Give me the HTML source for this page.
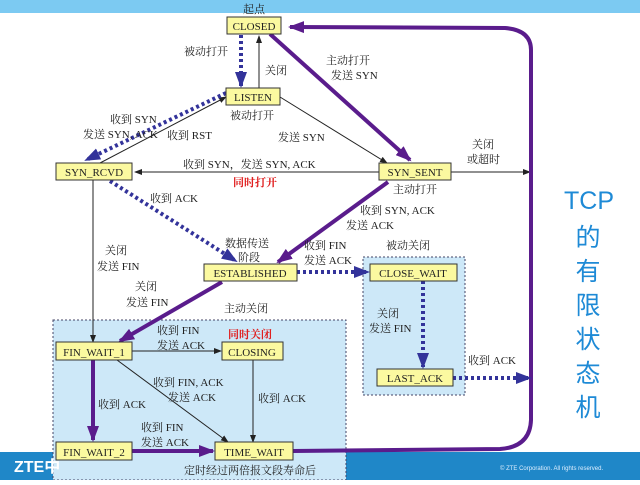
<!DOCTYPE html>
<html><head><meta charset="utf-8"><style>
body{margin:0;width:640px;height:480px;overflow:hidden;background:#fff}
svg text{font-family:"Liberation Serif","Noto Serif CJK SC",serif;font-size:11px;fill:#222}
svg text.big{font-family:"Liberation Sans","Noto Sans CJK SC",sans-serif;font-size:25px;fill:#1e8ad6}
</style></head><body>
<svg width="640" height="480" viewBox="0 0 640 480" xmlns="http://www.w3.org/2000/svg">
<defs>
<marker id="a" markerWidth="8" markerHeight="6" refX="7" refY="3" orient="auto" markerUnits="userSpaceOnUse"><path d="M0,0L8,3L0,6z" fill="#222"/></marker>
<marker id="p" markerWidth="16" markerHeight="12" refX="14" refY="6" orient="auto" markerUnits="userSpaceOnUse"><path d="M0,0L16,6L0,12z" fill="#5a1c8c"/></marker>
<marker id="b" markerWidth="16" markerHeight="12" refX="14" refY="6" orient="auto" markerUnits="userSpaceOnUse"><path d="M0,0L16,6L0,12z" fill="#33339a"/></marker>
</defs>
<rect x="0" y="0" width="640" height="13" fill="#7ccaf2"/>
<rect x="0" y="452" width="640" height="28" fill="#1f87c8"/>
<rect x="53" y="320" width="293" height="160" fill="#cde8f8" stroke="#446" stroke-dasharray="2,2"/>
<rect x="363" y="257" width="102" height="138" fill="#cde8f8" stroke="#446" stroke-dasharray="2,2"/>
<text x="14" y="472" style="font-family:'Liberation Sans','Noto Sans CJK SC',sans-serif;font-weight:bold;font-size:16px;fill:#fff">ZTE中</text>
<text x="500" y="470" style="font-family:'Liberation Sans',sans-serif;font-size:6px;fill:#dfefff">© ZTE Corporation. All rights reserved.</text>
<g stroke="#222" stroke-width="1" fill="none">
<line x1="259" y1="88" x2="259" y2="36" marker-end="url(#a)"/>
<line x1="100" y1="163" x2="226" y2="97" marker-end="url(#a)"/>
<line x1="280" y1="97" x2="387" y2="163" marker-end="url(#a)"/>
<line x1="379" y1="172" x2="135" y2="172" marker-end="url(#a)"/>
<line x1="451" y1="172" x2="530" y2="172" marker-end="url(#a)"/>
<line x1="93" y1="180" x2="93" y2="342" marker-end="url(#a)"/>
<line x1="132" y1="351" x2="221" y2="351" marker-end="url(#a)"/>
<line x1="117" y1="360" x2="228" y2="442" marker-end="url(#a)"/>
<line x1="253" y1="360" x2="253" y2="442" marker-end="url(#a)"/>
</g>
<g stroke="#5a1c8c" stroke-width="4" fill="none">
<line x1="270" y1="34" x2="410" y2="160" marker-end="url(#p)"/>
<line x1="388" y1="182" x2="278" y2="262" marker-end="url(#p)"/>
<line x1="222" y1="282" x2="120" y2="341" marker-end="url(#p)"/>
<line x1="93" y1="360" x2="93" y2="440" marker-end="url(#p)"/>
<line x1="132" y1="451" x2="213" y2="451" marker-end="url(#p)"/>
<path d="M293,451 L500,449 Q530,447 531,420 L531,50 Q531,30 505,28 L290,27" marker-end="url(#p)"/>
</g>
<g stroke="#33339a" stroke-width="4" fill="none" stroke-dasharray="3,3">
<line x1="241" y1="35" x2="241" y2="86" marker-end="url(#b)"/>
<line x1="226" y1="93" x2="86" y2="160" marker-end="url(#b)"/>
<line x1="110" y1="181" x2="236" y2="261" marker-end="url(#b)"/>
<line x1="297" y1="272" x2="368" y2="272" marker-end="url(#b)"/>
<line x1="423" y1="281" x2="423" y2="367" marker-end="url(#b)"/>
<line x1="453" y1="378" x2="530" y2="378" marker-end="url(#b)"/>
</g>
<g fill="#fbf9a0" stroke="#333" stroke-width="1">
<rect x="227" y="17" width="54" height="17"/>
<rect x="226" y="88" width="54" height="17"/>
<rect x="56" y="163" width="76" height="17"/>
<rect x="379" y="163" width="72" height="17"/>
<rect x="204" y="264" width="93" height="17"/>
<rect x="370" y="264" width="87" height="17"/>
<rect x="377" y="369" width="76" height="17"/>
<rect x="56" y="342" width="76" height="18"/>
<rect x="222" y="342" width="61" height="18"/>
<rect x="56" y="442" width="76" height="18"/>
<rect x="215" y="442" width="78" height="18"/>
</g>
<g text-anchor="middle">
<text x="254" y="30">CLOSED</text><text x="253" y="101">LISTEN</text>
<text x="94" y="176">SYN_RCVD</text><text x="415" y="176">SYN_SENT</text>
<text x="250" y="277">ESTABLISHED</text><text x="413" y="277">CLOSE_WAIT</text>
<text x="415" y="382">LAST_ACK</text><text x="94" y="356">FIN_WAIT_1</text>
<text x="252" y="356">CLOSING</text><text x="94" y="456">FIN_WAIT_2</text>
<text x="254" y="456">TIME_WAIT</text>
</g>
<text x="243" y="13">起点</text>
<text x="184" y="55">被动打开</text>
<text x="265" y="74">关闭</text>
<text x="326" y="64">主动打开</text><text x="331" y="79">发送 SYN</text>
<text x="110" y="123">收到 SYN</text><text x="83" y="138">发送 SYN, ACK</text>
<text x="230" y="119">被动打开</text>
<text x="167" y="139">收到 RST</text>
<text x="278" y="141">发送 SYN</text>
<text x="472" y="148">关闭</text><text x="467" y="163">或超时</text>
<text x="183" y="168">收到 SYN，发送 SYN, ACK</text>
<text x="233" y="186" style="fill:#e02020;font-weight:bold">同时打开</text>
<text x="393" y="193">主动打开</text>
<text x="150" y="202">收到 ACK</text>
<text x="360" y="214">收到 SYN, ACK</text><text x="346" y="229">发送 ACK</text>
<text x="105" y="254">关闭</text><text x="97" y="270">发送 FIN</text>
<text x="225" y="247">数据传送</text><text x="238" y="261">阶段</text>
<text x="304" y="249">收到 FIN</text><text x="304" y="264">发送 ACK</text>
<text x="386" y="249">被动关闭</text>
<text x="135" y="290">关闭</text><text x="126" y="306">发送 FIN</text>
<text x="224" y="312">主动关闭</text>
<text x="157" y="334">收到 FIN</text><text x="157" y="349">发送 ACK</text>
<text x="228" y="338" style="fill:#e02020;font-weight:bold">同时关闭</text>
<text x="377" y="317">关闭</text><text x="369" y="332">发送 FIN</text>
<text x="468" y="364">收到 ACK</text>
<text x="153" y="386">收到 FIN, ACK</text><text x="168" y="401">发送 ACK</text>
<text x="98" y="408">收到 ACK</text>
<text x="258" y="402">收到 ACK</text>
<text x="141" y="431">收到 FIN</text><text x="141" y="446">发送 ACK</text>
<text x="184" y="474">定时经过两倍报文段寿命后</text>
<g text-anchor="middle">
<text class="big" x="589" y="209">TCP</text>
<text class="big" x="588" y="246">的</text>
<text class="big" x="588" y="280">有</text>
<text class="big" x="588" y="314">限</text>
<text class="big" x="588" y="348">状</text>
<text class="big" x="588" y="382">态</text>
<text class="big" x="588" y="416">机</text>
</g>
</svg>
</body></html>
